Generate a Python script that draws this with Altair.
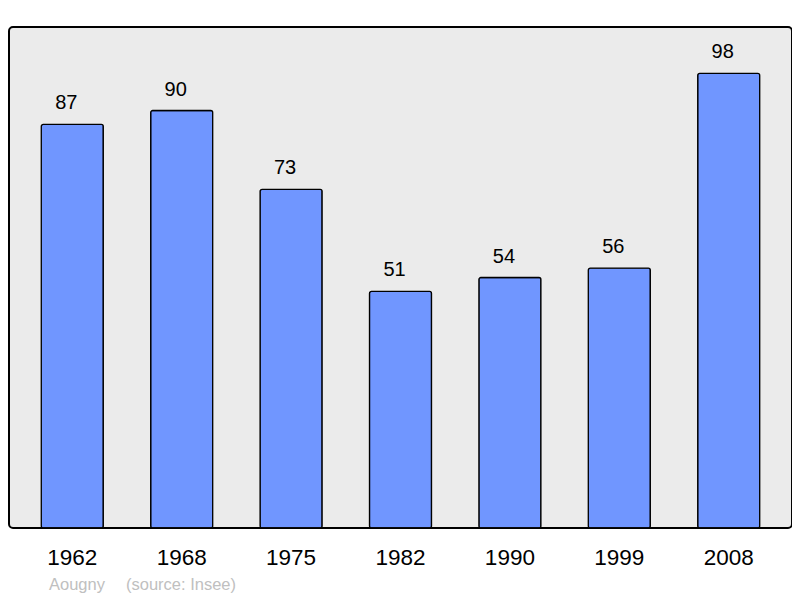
import altair as alt
import pandas as pd

years = ["1962", "1968", "1975", "1982", "1990", "1999", "2008"]
population = [87, 90, 73, 51, 54, 56, 98]
commune = "Aougny"
source = "(source: Insee)"

df = pd.DataFrame({"year": years, "pop": population})

x = alt.X("year:N", sort=years, title=None,
          scale=alt.Scale(paddingInner=0.433, paddingOuter=0.295),
          axis=alt.Axis(orient="bottom", domain=False, ticks=False, grid=False,
                        labelAngle=0, labelFontSize=22.5, labelColor="#000000",
                        labelFont="Liberation Sans", labelPadding=36,
                        labelBaseline="alphabetic"))
y = alt.Y("pop:Q", scale=alt.Scale(domain=[0, 108], nice=False, zero=True), axis=None)

base = alt.Chart(df)

bars = base.mark_bar(color="#7096ff", stroke="#000000", strokeWidth=1.3,
                     cornerRadius=2).encode(x=x, y=y)

labels = base.mark_text(fontSize=20, font="Liberation Sans", color="#000000",
                        baseline="alphabetic", dy=-15, dx=-6).encode(
    x=alt.X("year:N", sort=years), y="pop:Q", text="pop:Q")

cap1 = alt.Chart(pd.DataFrame({"t": [commune]})).mark_text(
    align="left", baseline="middle", fontSize=16.5, font="Liberation Sans",
    color="#c0c0c0").encode(x=alt.value(40), y=alt.value(558), text="t:N")
cap2 = alt.Chart(pd.DataFrame({"t": [source]})).mark_text(
    align="left", baseline="middle", fontSize=16.5, font="Liberation Sans",
    color="#c0c0c0").encode(x=alt.value(117), y=alt.value(558), text="t:N")

chart = alt.layer(bars, labels, cap1, cap2).properties(
    width=783, height=501,
    background="#ffffff",
    padding={"left": 1, "top": 19, "right": 0, "bottom": 0},
).configure_view(
    fill="#ebebeb", stroke="#000000", strokeWidth=2, cornerRadius=4
)

chart.save("out.html", embed_options={"renderer": "svg", "actions": False})
